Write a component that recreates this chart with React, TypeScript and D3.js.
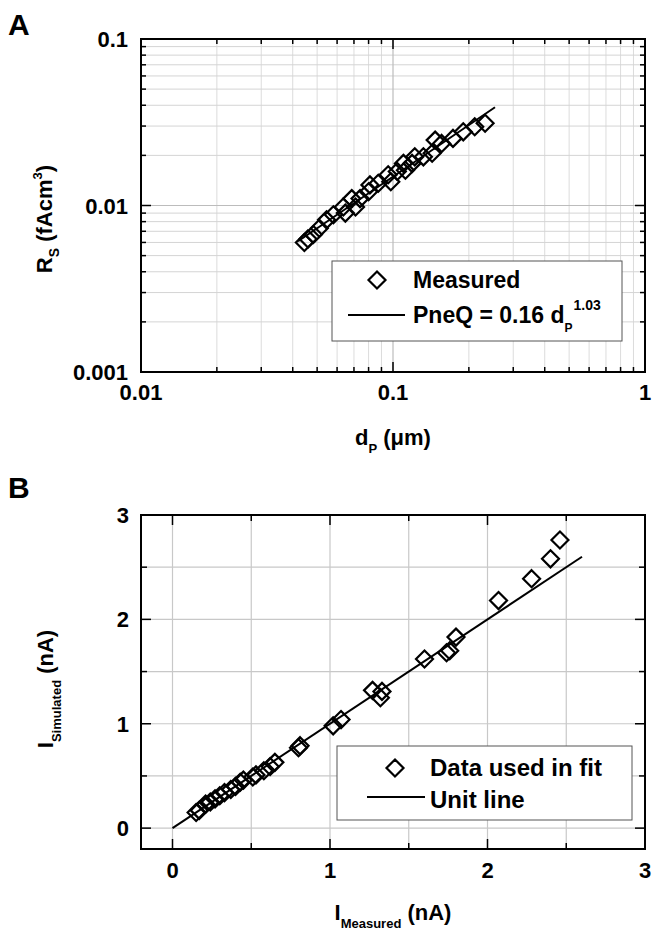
import React from "react";
import * as d3 from "d3";

// Panel A data (log-log)
const aDiam = [0.0445, 0.046, 0.0483, 0.051, 0.0545, 0.058, 0.0635, 0.0647, 0.0686, 0.071, 0.074, 0.080, 0.081, 0.0874, 0.0957, 0.098, 0.104, 0.110, 0.112, 0.119, 0.122, 0.132, 0.143, 0.147, 0.156, 0.173, 0.190, 0.211, 0.232];
const aRs = [0.0060, 0.0063, 0.0067, 0.0073, 0.0082, 0.0088, 0.0098, 0.0090, 0.0110, 0.0098, 0.0110, 0.0121, 0.0133, 0.0136, 0.0153, 0.0139, 0.0160, 0.0179, 0.0163, 0.0179, 0.0196, 0.0196, 0.0206, 0.0247, 0.0236, 0.0253, 0.0277, 0.0297, 0.0312];
const aFitX = [0.042, 0.254];
const aFitY = [0.0061, 0.0389];
const aTicks = [0.01, 0.1, 1];
const aYTicks = [0.001, 0.01, 0.1];
const aTickLabels = ["0.01", "0.1", "1"];
const aYTickLabels = ["0.001", "0.01", "0.1"];

// Panel B data
const bMeasured = [0.15, 0.17, 0.21, 0.24, 0.27, 0.30, 0.33, 0.37, 0.40, 0.43, 0.45, 0.51, 0.53, 0.58, 0.62, 0.65, 0.80, 0.81, 1.02, 1.07, 1.27, 1.32, 1.33, 1.60, 1.74, 1.76, 1.80, 2.07, 2.28, 2.40, 2.46];
const bSimulated = [0.15, 0.17, 0.23, 0.25, 0.28, 0.31, 0.34, 0.37, 0.40, 0.44, 0.46, 0.49, 0.51, 0.55, 0.59, 0.63, 0.77, 0.79, 0.98, 1.04, 1.32, 1.25, 1.31, 1.62, 1.68, 1.70, 1.83, 2.18, 2.39, 2.58, 2.76];
const bUnitLine = [0, 2.6];
const bTicks = [0, 1, 2, 3];
const bMinor = [0, 0.5, 1, 1.5, 2, 2.5, 3];

const FONT = "'Liberation Sans', Arial, Helvetica, sans-serif";

const diamond = (cx: number, cy: number, r: number) =>
  `M${cx},${cy - r}L${cx + r},${cy}L${cx},${cy + r}L${cx - r},${cy}Z`;

export default function App() {
  // Panel A
  const A = { l: 141, r: 645, t: 39, b: 372 };
  const ax = d3.scaleLog().domain([0.01, 1]).range([A.l, A.r]);
  const ay = d3.scaleLog().domain([0.001, 0.1]).range([A.b, A.t]);
  const minorX: number[] = [];
  const minorY: number[] = [];
  for (const dec of [0.01, 0.1]) for (let k = 2; k <= 9; k++) minorX.push(dec * k);
  for (const dec of [0.001, 0.01]) for (let k = 2; k <= 9; k++) minorY.push(dec * k);

  // Panel B
  const B = { l: 141, r: 645, t: 515, b: 849 };
  const bx = d3.scaleLinear().domain([-0.2, 3]).range([B.l, B.r]);
  const by = d3.scaleLinear().domain([-0.2, 3]).range([B.b, B.t]);

  const line = d3.line<[number, number]>();

  return (
    <svg width={652} height={933} style={{ position: "absolute", left: 0, top: 0, background: "#fff" }} fontFamily={FONT} fontWeight="bold">
      <rect x={0} y={0} width={652} height={933} fill="#fff" />
      {/* ---------- Panel A ---------- */}
      <text x={8} y={35} fontSize={30}>A</text>
      {/* minor grid */}
      {minorX.map((v, i) => (
        <line key={"amx" + i} x1={ax(v)} x2={ax(v)} y1={A.t} y2={A.b} stroke="#dcdcdc" strokeWidth={1} />
      ))}
      {minorY.map((v, i) => (
        <line key={"amy" + i} y1={ay(v)} y2={ay(v)} x1={A.l} x2={A.r} stroke="#d4d4d4" strokeWidth={1} />
      ))}
      {aTicks.map((v, i) => (
        <line key={"agx" + i} x1={ax(v)} x2={ax(v)} y1={A.t} y2={A.b} stroke="#bcbcbc" strokeWidth={1.2} />
      ))}
      {aYTicks.map((v, i) => (
        <line key={"agy" + i} y1={ay(v)} y2={ay(v)} x1={A.l} x2={A.r} stroke="#bcbcbc" strokeWidth={1.2} />
      ))}
      {/* ticks */}
      {minorX.map((v, i) => (
        <g key={"atx" + i} stroke="#000" strokeWidth={1.5}>
          <line x1={ax(v)} x2={ax(v)} y1={A.b} y2={A.b - 5} />
          <line x1={ax(v)} x2={ax(v)} y1={A.t} y2={A.t + 5} />
        </g>
      ))}
      {aTicks.map((v, i) => (
        <g key={"aTx" + i} stroke="#000" strokeWidth={1.5}>
          <line x1={ax(v)} x2={ax(v)} y1={A.b} y2={A.b - 10} />
          <line x1={ax(v)} x2={ax(v)} y1={A.t} y2={A.t + 10} />
        </g>
      ))}
      {minorY.map((v, i) => (
        <g key={"aty" + i} stroke="#000" strokeWidth={1.5}>
          <line y1={ay(v)} y2={ay(v)} x1={A.l} x2={A.l + 5} />
          <line y1={ay(v)} y2={ay(v)} x1={A.r} x2={A.r - 5} />
        </g>
      ))}
      {aYTicks.map((v, i) => (
        <g key={"aTy" + i} stroke="#000" strokeWidth={1.5}>
          <line y1={ay(v)} y2={ay(v)} x1={A.l} x2={A.l + 10} />
          <line y1={ay(v)} y2={ay(v)} x1={A.r} x2={A.r - 10} />
        </g>
      ))}
      {/* fit line */}
      <path d={line(aFitX.map((v, i) => [ax(v), ay(aFitY[i])]))!} stroke="#000" strokeWidth={2} fill="none" />
      {/* points */}
      {aDiam.map((v, i) => (
        <path key={"ap" + i} d={diamond(ax(v), ay(aRs[i]), 8.5)} fill="none" stroke="#000" strokeWidth={2.2} />
      ))}
      <rect x={A.l} y={A.t} width={A.r - A.l} height={A.b - A.t} fill="none" stroke="#000" strokeWidth={2} />
      {/* tick labels */}
      {aTicks.map((v, i) => (
        <text key={"axl" + i} x={ax(v)} y={400} fontSize={22} textAnchor="middle">{aTickLabels[i]}</text>
      ))}
      {aYTicks.map((v, i) => (
        <text key={"ayl" + i} x={128} y={ay(v) + 8} fontSize={22} textAnchor="end">{aYTickLabels[i]}</text>
      ))}
      {/* titles */}
      <text x={393} y={445} fontSize={22} textAnchor="middle">
        d<tspan fontSize={13} dy={8}>P</tspan><tspan dy={-8}> (μm)</tspan>
      </text>
      <text transform="translate(52,219) rotate(-90)" fontSize={22} textAnchor="middle">
        R<tspan fontSize={14} dy={7}>S</tspan><tspan dy={-7}> (fAcm</tspan><tspan fontSize={13} dy={-10}>3</tspan><tspan dy={10}>)</tspan>
      </text>
      {/* legend A */}
      <rect x={332} y={261} width={290} height={80} fill="#fff" stroke="#555" strokeWidth={1} />
      <path d={diamond(377, 280, 8.5)} fill="none" stroke="#000" strokeWidth={2.2} />
      <text x={413} y={288} fontSize={23}>Measured</text>
      <line x1={348} x2={405} y1={315} y2={315} stroke="#000" strokeWidth={2} />
      <text x={413} y={323} fontSize={23}>
        PneQ = 0.16 d<tspan fontSize={12} dy={9}>P</tspan><tspan fontSize={14} dy={-22} dx={1}>1.03</tspan>
      </text>

      {/* ---------- Panel B ---------- */}
      <text x={8} y={498} fontSize={30}>B</text>
      {bMinor.map((v, i) => (
        <g key={"bg" + i} stroke="#c8c8c8" strokeWidth={1.2}>
          <line x1={bx(v)} x2={bx(v)} y1={B.t} y2={B.b} />
          <line y1={by(v)} y2={by(v)} x1={B.l} x2={B.r} />
        </g>
      ))}
      {bMinor.map((v, i) => {
        const len = Number.isInteger(v) ? 10 : 6;
        return (
          <g key={"bt" + i} stroke="#000" strokeWidth={1.5}>
            <line x1={bx(v)} x2={bx(v)} y1={B.b} y2={B.b - len} />
            <line x1={bx(v)} x2={bx(v)} y1={B.t} y2={B.t + len} />
            <line y1={by(v)} y2={by(v)} x1={B.l} x2={B.l + len} />
            <line y1={by(v)} y2={by(v)} x1={B.r} x2={B.r - len} />
          </g>
        );
      })}
      <path d={line(bUnitLine.map((v) => [bx(v), by(v)]))!} stroke="#000" strokeWidth={2} fill="none" />
      {bMeasured.map((v, i) => (
        <path key={"bp" + i} d={diamond(bx(v), by(bSimulated[i]), 8.5)} fill="none" stroke="#000" strokeWidth={2.2} />
      ))}
      <rect x={B.l} y={B.t} width={B.r - B.l} height={B.b - B.t} fill="none" stroke="#000" strokeWidth={2} />
      {bTicks.map((v, i) => (
        <text key={"bxl" + i} x={bx(v)} y={878} fontSize={22} textAnchor="middle">{String(v)}</text>
      ))}
      {bTicks.map((v, i) => (
        <text key={"byl" + i} x={129} y={by(v) + 8} fontSize={22} textAnchor="end">{String(v)}</text>
      ))}
      <text x={393} y={920} fontSize={22} textAnchor="middle">
        I<tspan fontSize={13} dy={8}>Measured</tspan><tspan dy={-8}> (nA)</tspan>
      </text>
      <text transform="translate(53,689) rotate(-90)" fontSize={22} textAnchor="middle">
        I<tspan fontSize={13} dy={8}>Simulated</tspan><tspan dy={-8}> (nA)</tspan>
      </text>
      {/* legend B */}
      <rect x={337} y={746} width={295} height={74} fill="#fff" stroke="#555" strokeWidth={1} />
      <path d={diamond(395, 768, 8.5)} fill="none" stroke="#000" strokeWidth={2.2} />
      <text x={430} y={776} fontSize={24}>Data used in fit</text>
      <line x1={367} x2={425} y1={797} y2={797} stroke="#000" strokeWidth={2} />
      <text x={430} y={808} fontSize={24}>Unit line</text>
    </svg>
  );
}
